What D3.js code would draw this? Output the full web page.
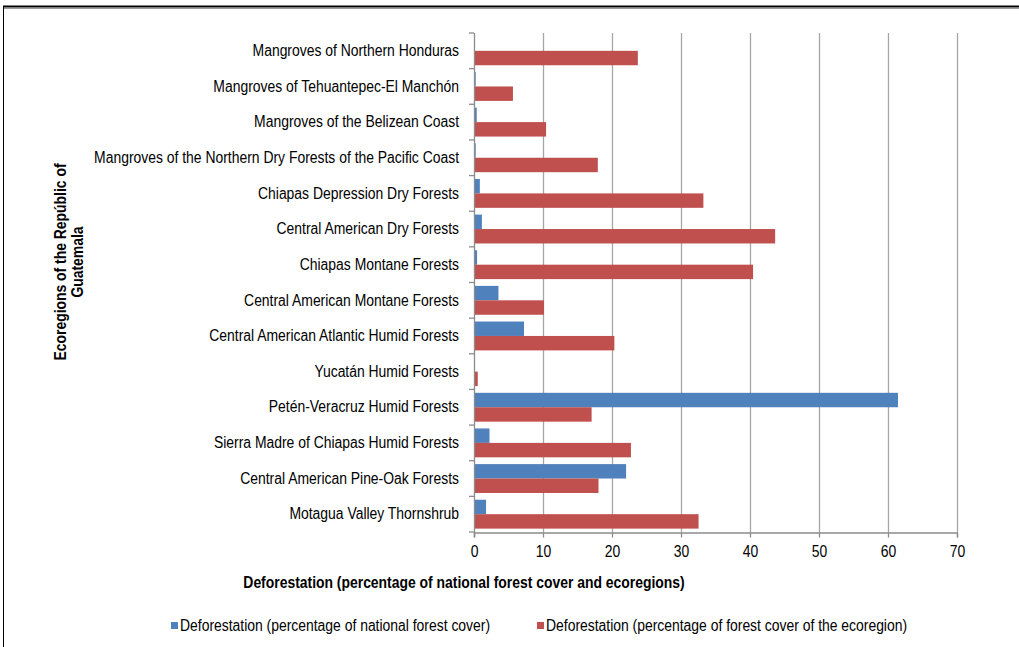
<!DOCTYPE html>
<html>
<head>
<meta charset="utf-8">
<script src="https://cdn.jsdelivr.net/npm/d3@7"></script>
<style>
  body { margin: 0; background: #fff; }
  text { font-family: "Liberation Sans", Arial, sans-serif; fill: #000; }
</style>
</head>
<body>
<script>
let categories = [
  "Mangroves of Northern Honduras",
  "Mangroves of Tehuantepec-El Manchón",
  "Mangroves of the Belizean Coast",
  "Mangroves of the Northern Dry Forests of the Pacific Coast",
  "Chiapas Depression Dry Forests",
  "Central American Dry Forests",
  "Chiapas Montane Forests",
  "Central American Montane Forests",
  "Central American Atlantic Humid Forests",
  "Yucatán Humid Forests",
  "Petén-Veracruz Humid Forests",
  "Sierra Madre of Chiapas Humid Forests",
  "Central American Pine-Oak Forests",
  "Motagua Valley Thornshrub"
];
let nationalCover = [0, 0.1, 0.25, 0.1, 0.7, 1.0, 0.3, 3.4, 7.1, 0, 61.3, 2.1, 21.9, 1.6];
let ecoregionCover = [23.6, 5.5, 10.3, 17.8, 33.1, 43.5, 40.3, 10.0, 20.2, 0.4, 16.9, 22.6, 17.9, 32.4];
let xTicks = [0, 10, 20, 30, 40, 50, 60, 70];
let seriesNames = [
  "Deforestation (percentage of national forest cover)",
  "Deforestation (percentage of forest cover of the ecoregion)"
];
let colors = ["#4f81bd", "#c0504d"];

let width = 1019, height = 647;
let plotLeft = 474, plotRight = 957, plotTop = 33, plotBottom = 532;
let squeeze = 0.87; // condensed look of the original font

let svg = d3.select("body").append("svg")
    .attr("width", width)
    .attr("height", height);

// outer frame
svg.append("line").attr("x1", 3).attr("x2", width).attr("y1", 6.5).attr("y2", 6.5)
    .attr("stroke", "#000").attr("stroke-width", 2);
svg.append("line").attr("x1", 4).attr("x2", width).attr("y1", 8.5).attr("y2", 8.5)
    .attr("stroke", "#999").attr("stroke-width", 1);
svg.append("line").attr("x1", 3.5).attr("x2", 3.5).attr("y1", 6).attr("y2", height)
    .attr("stroke", "#000").attr("stroke-width", 1);

let x = d3.scaleLinear().domain([0, 70]).range([plotLeft, plotRight]);
let y = d3.scaleBand().domain(categories).range([plotTop, plotBottom]).paddingInner(0.19).paddingOuter(0.095);
let sub = d3.scaleBand().domain([0, 1]).range([0, y.bandwidth()]);

// gridlines
svg.append("g").selectAll("line")
    .data(xTicks.slice(1))
    .enter().append("line")
    .attr("x1", d => x(d) + 0.5).attr("x2", d => x(d) + 0.5)
    .attr("y1", plotTop).attr("y2", plotBottom)
    .attr("stroke", "#a6a6a6").attr("stroke-width", 1.3);

// bars
let rows = svg.append("g").selectAll("g")
    .data(categories)
    .enter().append("g")
    .attr("transform", d => "translate(0," + y(d) + ")");

rows.append("rect")
    .attr("x", x(0) + 1)
    .attr("y", sub(0))
    .attr("width", (d, i) => Math.max(0, x(nationalCover[i]) - x(0)))
    .attr("height", sub.bandwidth())
    .attr("fill", colors[0]);

rows.append("rect")
    .attr("x", x(0) + 1)
    .attr("y", sub(1))
    .attr("width", (d, i) => Math.max(0, x(ecoregionCover[i]) - x(0)))
    .attr("height", sub.bandwidth())
    .attr("fill", colors[1]);

// x axis
let xAxis = svg.append("g")
    .attr("transform", "translate(0," + (plotBottom + 0.5) + ")")
    .call(d3.axisBottom(x).tickValues(xTicks).tickSize(5).tickPadding(8));
xAxis.select(".domain").attr("stroke", "#8c8c8c").attr("stroke-width", 1.3);
xAxis.selectAll(".tick line").attr("stroke", "#8c8c8c").attr("stroke-width", 1.3);
xAxis.selectAll("text").attr("font-size", 16).attr("font-family", null)
    .attr("transform", "scale(" + squeeze + ",1)");

// y axis
let bandStep = (plotBottom - plotTop) / categories.length;
let yAxisG = svg.append("g");
yAxisG.append("line")
    .attr("x1", plotLeft + 0.5).attr("x2", plotLeft + 0.5)
    .attr("y1", plotTop).attr("y2", plotBottom + 5)
    .attr("stroke", "#8c8c8c").attr("stroke-width", 1.3);
yAxisG.selectAll(".ytick")
    .data(d3.range(categories.length + 1))
    .enter().append("line")
    .attr("x1", plotLeft - 5).attr("x2", plotLeft)
    .attr("y1", i => plotTop + i * bandStep).attr("y2", i => plotTop + i * bandStep)
    .attr("stroke", "#8c8c8c").attr("stroke-width", 1.3);
yAxisG.selectAll("text")
    .data(categories)
    .enter().append("text")
    .attr("transform", d => "translate(" + (plotLeft - 15) + "," + (y(d) + y.bandwidth() / 2 + 1) + ") scale(" + squeeze + ",1)")
    .attr("text-anchor", "end")
    .attr("dominant-baseline", "middle")
    .attr("font-size", 16)
    .text(d => d);

// axis titles
svg.append("text")
    .attr("transform", "translate(464,588) scale(" + squeeze + ",1)")
    .attr("text-anchor", "middle")
    .attr("font-size", 16).attr("font-weight", "bold")
    .text("Deforestation (percentage of national forest cover and ecoregions)");

let yTitle = svg.append("text")
    .attr("transform", "translate(0,262) rotate(-90) scale(" + squeeze + ",1)")
    .attr("text-anchor", "middle")
    .attr("font-size", 16).attr("font-weight", "bold");
yTitle.append("tspan").attr("x", 0).attr("y", 66).text("Ecoregions of the Repúblic of");
yTitle.append("tspan").attr("x", 0).attr("y", 83).text("Guatemala");

// legend
let legendX = [171, 537];
let legend = svg.append("g").selectAll("g")
    .data(seriesNames)
    .enter().append("g")
    .attr("transform", (d, i) => "translate(" + legendX[i] + ",622)");
legend.append("rect").attr("width", 7).attr("height", 7).attr("fill", (d, i) => colors[i]);
legend.append("text")
    .attr("transform", "translate(9,5) scale(" + squeeze + ",1)")
    .attr("dominant-baseline", "middle")
    .attr("font-size", 16)
    .text(d => d);
</script>
</body>
</html>
